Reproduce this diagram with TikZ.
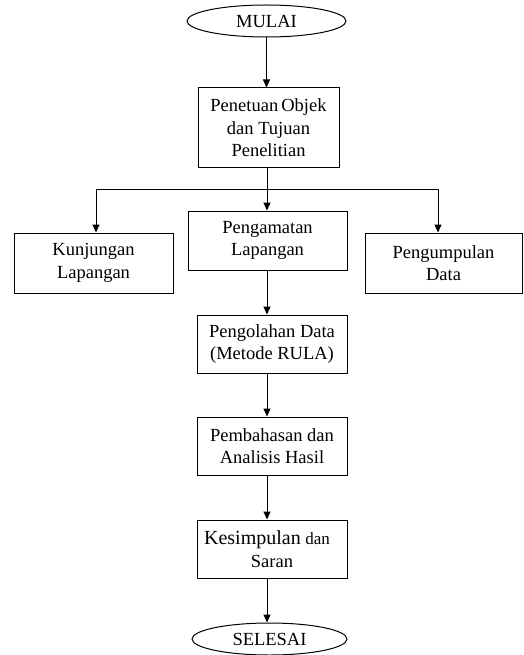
\documentclass[tikz,border=0pt]{standalone}
\usepackage{fontspec}
\setmainfont{Liberation Serif}
\usetikzlibrary{shapes.geometric,arrows.meta}

\tikzset{
    kotak/.style={draw, rectangle, line width=1pt, align=center, inner sep=0pt},
    oval/.style={draw, ellipse, line width=1pt, inner sep=0pt},
    panah/.style={line width=1pt, -{Triangle[length=8pt,width=7pt]}}
}

\begin{document}
\begin{tikzpicture}[x=1pt, y=-1pt, font={\fontsize{18.5}{22.5}\selectfont}]
    \useasboundingbox (0,0) rectangle (523,655);

    % Start and end
    \node[oval, minimum width=159pt, minimum height=32pt] (mulai) at (266.5,21) {MULAI};
    \node[oval, minimum width=155pt, minimum height=32pt] (selesai) at (269.5,639) {SELESAI};

    % Boxes
    \node[kotak, minimum width=141pt, minimum height=80pt] (tujuan) at (268.5,128) {Penetuan\,Objek\\dan Tujuan\\Penelitian};
    \node[kotak, minimum width=159pt, minimum height=60pt] (kunjungan) at (93.5,263) {Kunjungan\\Lapangan};
    \node[kotak, minimum width=159pt, minimum height=59pt] (pengamatan) at (267.5,240.5) {Pengamatan\\Lapangan};
    \node[kotak, minimum width=157pt, minimum height=60pt] (pengumpulan) at (443.5,263) {Pengumpulan\\Data};
    \node[kotak, minimum width=150pt, minimum height=58pt] (pengolahan) at (272,344) {Pengolahan Data\\(Metode RULA)};
    \node[kotak, minimum width=150pt, minimum height=58pt] (pembahasan) at (272,446) {Pembahasan dan\\Analisis Hasil};
    \node[kotak, minimum width=150pt, minimum height=58pt] (kesimpulan) at (272,549) {{\fontsize{20}{22.5}\selectfont Kesimpulan} {\fontsize{17}{22.5}\selectfont dan}\hspace*{10pt}\\Saran};

    % Branch points
    \coordinate (cabang) at (267,189);
    \coordinate (kiri) at (96,189);
    \coordinate (kanan) at (438,189);

    % Arrows
    \draw[panah] (mulai.south) -- (mulai.south |- tujuan.north);
    \draw[line width=1pt] (tujuan.south -| cabang) -- (cabang);
    \draw[line width=1pt] (kiri) -- (kanan);
    \draw[panah] (cabang) -- (cabang |- pengamatan.north);
    \draw[panah] (kiri) -- (kiri |- kunjungan.north);
    \draw[panah] (kanan) -- (kanan |- pengumpulan.north);
    \draw[panah] (pengamatan.south -| cabang) -- (cabang |- pengolahan.north);
    \draw[panah] (pengolahan.south -| cabang) -- (cabang |- pembahasan.north);
    \draw[panah] (pembahasan.south -| cabang) -- (cabang |- kesimpulan.north);
    \draw[panah] (kesimpulan.south -| cabang) -- (cabang |- selesai.north);

\end{tikzpicture}
\end{document}
